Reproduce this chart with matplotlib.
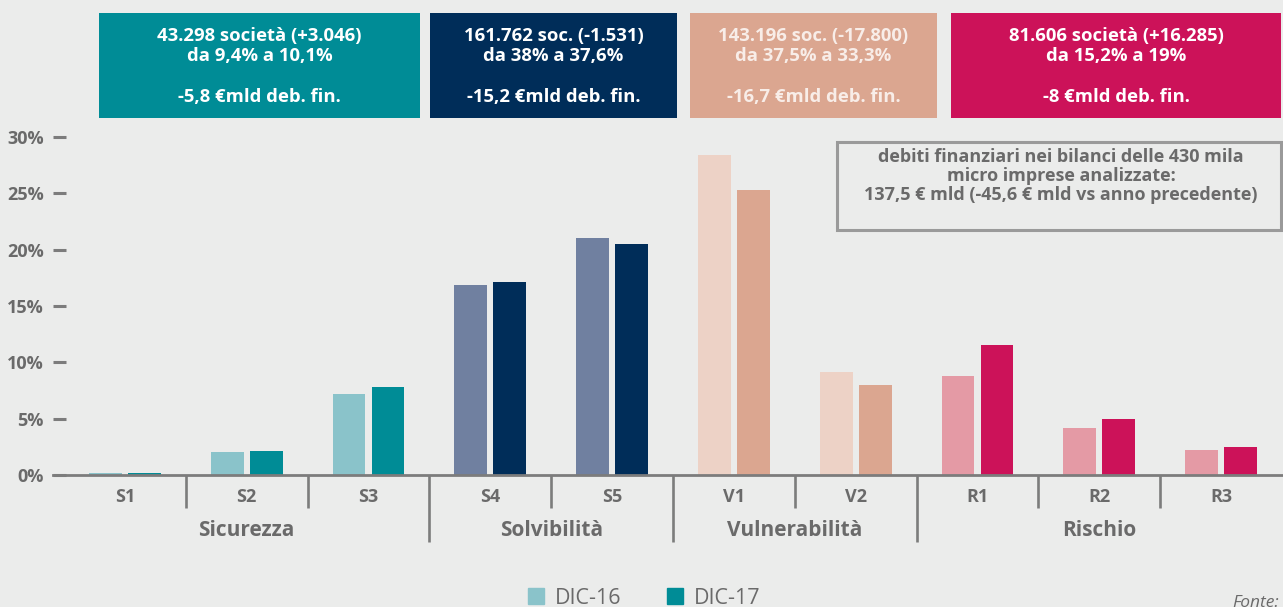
'''
Distribuzione delle micro imprese per classe di rating, DIC-16 vs DIC-17
'''
import numpy as np
from matplotlib import pyplot as plt
from matplotlib.patches import Rectangle, Patch

plt.rcParams['font.family'] = ['Open Sans', 'DejaVu Sans']

# dati (% di imprese)
categorie = ['S1', 'S2', 'S3', 'S4', 'S5', 'V1', 'V2', 'R1', 'R2', 'R3']
gruppi = ['Sicurezza', 'Solvibilità', 'Vulnerabilità', 'Rischio']
dim_gruppi = [3, 2, 2, 3]
dic16 = [0.2, 2.0, 7.2, 16.9, 21.0, 28.4, 9.1, 8.8, 4.2, 2.2]
dic17 = [0.2, 2.1, 7.8, 17.1, 20.5, 25.3, 8.0, 11.5, 5.0, 2.5]
yticks = [0, 5, 10, 15, 20, 25, 30]

box_righe = [
    ('43.298 società (+3.046)\nda 9,4% a 10,1%', '-5,8 €mld deb. fin.'),
    ('161.762 soc. (-1.531)\nda 38% a 37,6%', '-15,2 €mld deb. fin.'),
    ('143.196 soc. (-17.800)\nda 37,5% a 33,3%', '-16,7 €mld deb. fin.'),
    ('81.606 società (+16.285)\nda 15,2% a 19%', '-8 €mld deb. fin.'),
]
nota = ('debiti finanziari nei bilanci delle 430 mila\n'
        'micro imprese analizzate:\n'
        '137,5 € mld (-45,6 € mld vs anno precedente)')

# colori per gruppo: (chiaro DIC-16, scuro DIC-17)
colori_gruppi = [('#8ac3ca', '#008c96'), ('#7080a0', '#002d59'),
                 ('#edd2c6', '#dba690'), ('#e49aa5', '#cc1259')]
colore_testo_box = ['white', 'white', '#f8ede8', 'white']

BG = '#ebeceb'
GRIGIO = '#6a6a6a'
LINEA = '#7c7c7c'

W, H = 1283, 607
fig = plt.figure(figsize=(W / 100, H / 100), dpi=100, facecolor=BG)
ax = fig.add_axes([53 / W, (H - 475) / H, 1229 / W, 338 / H], facecolor=BG)

# colori di ogni barra dal gruppo di appartenenza
c16, c17 = [], []
for (chiaro, scuro), n in zip(colori_gruppi, dim_gruppi):
    c16 += [chiaro] * n
    c17 += [scuro] * n

x = np.arange(len(categorie))
w = 0.27
ax.bar(x - 0.16, dic16, w, color=c16, zorder=2)
ax.bar(x + 0.16, dic17, w, color=c17, zorder=2)

ax.set_xlim(-0.59, len(categorie) - 0.5)
ax.set_ylim(0, 30)
ax.set_yticks(yticks)
ax.set_yticklabels([f'{t}%' for t in yticks])
ax.tick_params(axis='y', direction='in', length=9.5, width=2.2, color=LINEA,
               pad=6.5, labelsize=13, labelcolor=GRIGIO)
for lab in ax.get_yticklabels():
    lab.set_fontweight('bold')
ax.set_xticks([])
for s in ['top', 'right', 'left']:
    ax.spines[s].set_visible(False)
ax.spines['bottom'].set_color(LINEA)
ax.spines['bottom'].set_linewidth(2)
ax.spines['bottom'].set_zorder(3)

# etichette categorie e separatori sotto l'asse
tr = ax.get_xaxis_transform()
for i, c in enumerate(categorie):
    ax.text(i, -22 / 338, c, transform=tr, ha='center', va='center',
            fontsize=13, fontweight='bold', color=GRIGIO)

confini = np.cumsum(dim_gruppi)[:-1] - 0.5
inizio = 0
for g, n in zip(gruppi, dim_gruppi):
    ax.text(inizio + (n - 1) / 2, -55 / 338, g, transform=tr, ha='center',
            va='center', fontsize=15, fontweight='bold', color=GRIGIO)
    inizio += n
for b in np.arange(len(categorie) - 1) + 0.5:
    fondo = -67 / 338 if b in confini else -33 / 338
    ax.plot([b, b], [0, fondo], transform=tr, color=LINEA, lw=1.9,
            clip_on=False, solid_capstyle='butt')

# riquadri colorati in alto
box_x = [(99, 420), (430, 677), (690, 937), (951, 1281)]
for (x0, x1), (_, col), (sopra, sotto), ct in zip(box_x, colori_gruppi,
                                                  box_righe, colore_testo_box):
    fig.patches.append(Rectangle((x0 / W, (H - 118) / H), (x1 - x0) / W, 105 / H,
                                 transform=fig.transFigure, facecolor=col,
                                 edgecolor='none'))
    xc = (x0 + x1) / 2 / W
    fig.text(xc, (H - 46) / H, sopra, ha='center', va='center', color=ct,
             fontsize=13.3, fontweight='bold', linespacing=1.15)
    fig.text(xc, (H - 97) / H, sotto, ha='center', va='center', color=ct,
             fontsize=13.3, fontweight='bold')

# nota con bordo grigio
fig.patches.append(Rectangle((837 / W, (H - 230) / H), 444 / W, 88 / H,
                             transform=fig.transFigure, facecolor='none',
                             edgecolor='#9a9a9a', lw=2.2))
fig.text(1061 / W, (H - 176) / H, nota, ha='center', va='center', color=GRIGIO,
         fontsize=13, fontweight='bold', linespacing=1.1)

# legenda
handles = [Patch(color=colori_gruppi[0][0], label='DIC-16'),
           Patch(color=colori_gruppi[0][1], label='DIC-17')]
fig.legend(handles=handles, loc='center', bbox_to_anchor=(644 / W, 9 / H),
           ncol=2, frameon=False, fontsize=15.5, labelcolor=GRIGIO,
           handlelength=0.75, handleheight=0.75, handletextpad=0.5,
           columnspacing=2.1, borderpad=0)

fig.text(1232 / W, 4 / H, 'Fonte:', style='italic', color=GRIGIO,
         fontsize=12.5, va='center', ha='left')

plt.savefig('out.png', dpi=100, facecolor=BG)
